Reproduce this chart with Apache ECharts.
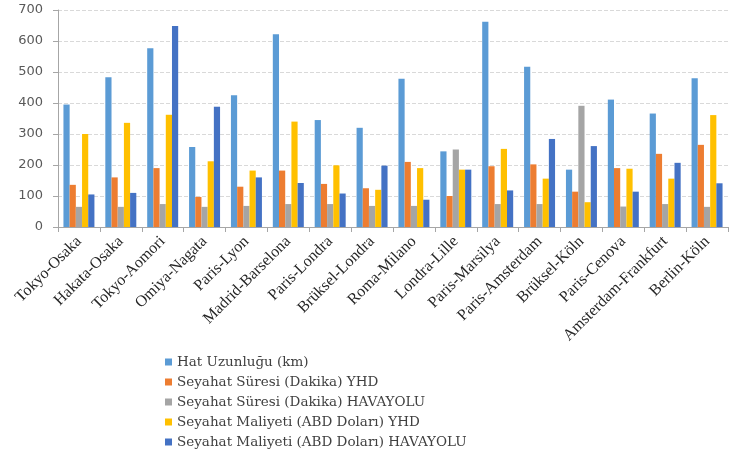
<!DOCTYPE HTML>
<html>
<head>
	<meta charset="utf-8"/>
	<title>YHD ve Havayolu</title>
	<style>
		* { padding: 0px; margin: 0px; }
		body { background: #ffffff; }
		#chart { width: 734px; height: 454px; }
	</style>
</head>
<body>
	<div id="chart"></div>
	<script type="text/javascript" src="https://cdn.jsdelivr.net/npm/echarts@6/dist/echarts.min.js"></script>
	<script>
		const routes = ['Tokyo-Osaka', 'Hakata-Osaka', 'Tokyo-Aomori', 'Omiya-Nagata', 'Paris-Lyon', 'Madrid-Barselona',
			'Paris-Londra', 'Brüksel-Londra', 'Roma-Milano', 'Londra-Lille', 'Paris-Marsilya', 'Paris-Amsterdam',
			'Brüksel-Köln', 'Paris-Cenova', 'Amsterdam-Frankfurt', 'Berlin-Köln'];
		const hatUzunlugu = [395, 483, 577, 258, 425, 622, 345, 320, 478, 244, 662, 517, 185, 411, 366, 480];
		const sureYhd = [136, 160, 190, 97, 130, 182, 139, 125, 210, 100, 196, 202, 114, 190, 236, 265];
		const sureHava = [65, 65, 74, 65, 68, 74, 74, 68, 68, 250, 74, 74, 391, 66, 74, 65];
		const maliyetYhd = [300, 336, 362, 212, 182, 340, 199, 120, 190, 185, 252, 156, 80, 188, 156, 361];
		const maliyetHava = [105, 110, 648, 388, 160, 142, 108, 198, 88, 185, 118, 284, 261, 114, 207, 141];
		const seriesNames = ['Hat Uzunluğu (km)', 'Seyahat Süresi (Dakika) YHD', 'Seyahat Süresi (Dakika) HAVAYOLU',
			'Seyahat Maliyeti (ABD Doları) YHD', 'Seyahat Maliyeti (ABD Doları) HAVAYOLU'];
		const colors = ['#5B9BD5', '#ED7D31', '#A5A5A5', '#FFC000', '#4472C4'];

		let myChart = echarts.init(document.getElementById('chart'));
		let allData = [hatUzunlugu, sureYhd, sureHava, maliyetYhd, maliyetHava];
		let option = {
			animation: false,
			color: colors,
			grid: { left: 58, right: 6, top: 10, bottom: 227, containLabel: false },
			legend: {
				orient: 'vertical',
				left: 165,
				top: 355,
				padding: 0,
				height: 110,
				itemWidth: 7,
				itemHeight: 7,
				itemGap: 6,
				icon: 'rect',
				textStyle: { fontFamily: '"DejaVu Serif"', fontSize: 13.5, lineHeight: 14, color: '#404040' },
				data: seriesNames
			},
			xAxis: {
				type: 'category',
				data: routes,
				axisLine: { lineStyle: { color: '#A6A6A6' } },
				axisTick: { show: true, length: 5, lineStyle: { color: '#A6A6A6' } },
				axisLabel: { rotate: 45, interval: 0, margin: 12, fontFamily: '"Liberation Serif"', fontSize: 16, color: '#262626' }
			},
			yAxis: {
				type: 'value',
				min: 0,
				max: 700,
				interval: 100,
				axisLine: { show: true, lineStyle: { color: '#A6A6A6' } },
				axisTick: { show: true, length: 5, lineStyle: { color: '#A6A6A6' } },
				axisLabel: { fontFamily: '"DejaVu Sans"', fontSize: 13, color: '#595959', margin: 15 },
				splitLine: { lineStyle: { color: '#D9D9D9', type: 'dashed' } }
			},
			series: seriesNames.map((name, i) => ({
				name: name,
				type: 'bar',
				data: allData[i],
				barGap: '0%',
				barCategoryGap: '26%'
			}))
		};
		myChart.setOption(option, true);
	</script>
</body>
</html>
